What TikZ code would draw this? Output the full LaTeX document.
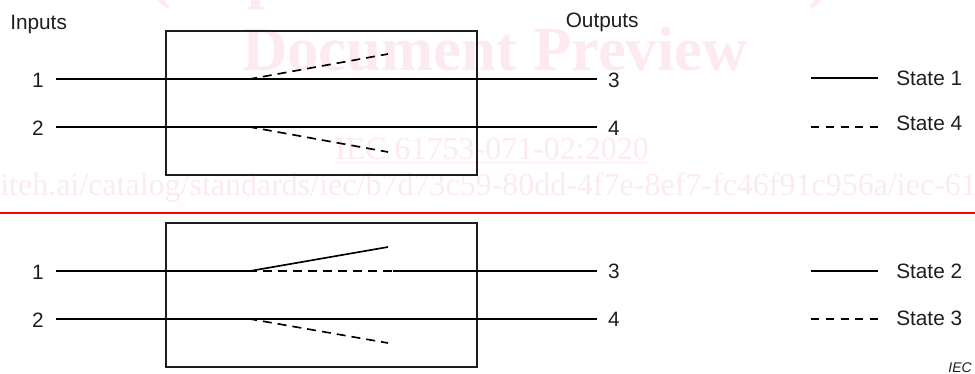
\documentclass[tikz,border=0pt]{standalone}
\usepackage{fontspec}
\setmainfont{Liberation Sans}
\newfontfamily\wmfont{Liberation Serif}
\definecolor{wm}{RGB}{252,234,240}
\definecolor{ink}{RGB}{30,30,30}
\tikzset{
  x=0.75pt,y=-0.75pt,
  boxst/.style={draw=ink,line width=1.2pt,fill=none,inner sep=0pt,minimum width=233.25pt,minimum height=108pt},
  wire/.style={draw=black,line width=1.1pt},
  swd/.style={draw=black,line width=1.25pt,dash pattern=on 6.75pt off 4.5pt,dash phase=1.5pt},
  legd/.style={draw=black,line width=1.1pt,dash pattern=on 6pt off 5.06pt},
  lab/.style={font=\fontsize{15.6}{18}\selectfont,text=ink,inner sep=0pt},
  wmt/.style={text=wm,inner sep=0pt,anchor=base},
  sepline/.style={draw=red,line width=0.85pt},
}
\begin{document}
\begin{tikzpicture}
\useasboundingbox (0,0) rectangle (975,374);
% watermark
\node[wmt,font=\wmfont\bfseries\fontsize{47}{50}\selectfont] (wm1) at (490,-3) {(https://standards.iteh.ai)};
\node[wmt,font=\wmfont\bfseries\fontsize{47}{50}\selectfont] (wm2) at (495,71) {Document Preview};
\node[wmt,font=\wmfont\fontsize{24}{30}\selectfont] (wm3) at (492,160) {\underline{IEC 61753-071-02:2020}};
\node[wmt,font=\wmfont\fontsize{24}{30}\selectfont,anchor=base west] (wm4) at (0,196) {iteh.ai/catalog/standards/iec/b7d73c59-80dd-4f7e-8ef7-fc46f91c956a/iec-61753-071-02-2020};
% boxes
\node[boxst] (boxA) at (321.75,103.25) {};
\node[boxst] (boxB) at (321.75,295.25) {};
% coordinates
\coordinate (a1) at (56,79); \coordinate (a3) at (597,79);
\coordinate (a2) at (56,127); \coordinate (a4) at (597,127);
\coordinate (sa1) at (250,79); \coordinate (ea1) at (388,54);
\coordinate (sa2) at (250,127); \coordinate (ea2) at (388,152);
\coordinate (b1) at (56,271); \coordinate (b3) at (597,271);
\coordinate (b2) at (56,319); \coordinate (b4) at (597,319);
\coordinate (sb1) at (250,271); \coordinate (eb1) at (388,247); \coordinate (mb1) at (393,271);
\coordinate (sb2) at (250,319); \coordinate (eb2) at (388,343);
% wires
\draw[wire] (a1) -- (a3);
\draw[wire] (a2) -- (a4);
\draw[swd] (sa1) -- (ea1);
\draw[swd] (sa2) -- (ea2);
\draw[wire] (b1) -- (sb1);
\draw[wire,line width=1.25pt] (sb1) -- (eb1);
\draw[swd] (sb1) -- (mb1);
\draw[wire] (mb1) -- (b3);
\draw[wire] (b2) -- (b4);
\draw[swd] (sb2) -- (eb2);
% labels
\node[lab,anchor=base west] (inp) at (10,30) {Inputs};
\node[lab,anchor=base west] (outp) at (565.5,28) {Outputs};
\node[lab,anchor=base] (n1) at (38,88) {1};
\node[lab,anchor=base] (n2) at (38,136) {2};
\node[lab,anchor=base] (n3) at (614,88) {3};
\node[lab,anchor=base] (n4) at (614,136) {4};
\node[lab,anchor=base] (m1) at (38,279) {1};
\node[lab,anchor=base] (m2) at (38,327) {2};
\node[lab,anchor=base] (m3) at (614,278) {3};
\node[lab,anchor=base] (m4) at (614,326) {4};
% legend
\node[lab,anchor=base west] (s1) at (896,86) {State 1};
\node[lab,anchor=base west] (s4) at (896,131) {State 4};
\node[lab,anchor=base west] (s2) at (896,278) {State 2};
\node[lab,anchor=base west] (s3) at (896,325) {State 3};
\coordinate (l1) at (811,78); \coordinate (l4) at (878,127);
\coordinate (l2) at (811,271); \coordinate (l3) at (878,319);
\draw[wire] (l1) -- (878,78);
\draw[legd] (811,127) -- (l4);
\draw[wire] (l2) -- (878,271);
\draw[legd] (811,319) -- (l3);
% separator
\coordinate (r0) at (0,213); \coordinate (r1) at (975,213);
\draw[sepline] (r0) -- (r1);
\node[lab,anchor=base east,font=\itshape\fontsize{10.5}{12}\selectfont] (iec) at (972,372) {IEC};
\end{tikzpicture}
\end{document}
